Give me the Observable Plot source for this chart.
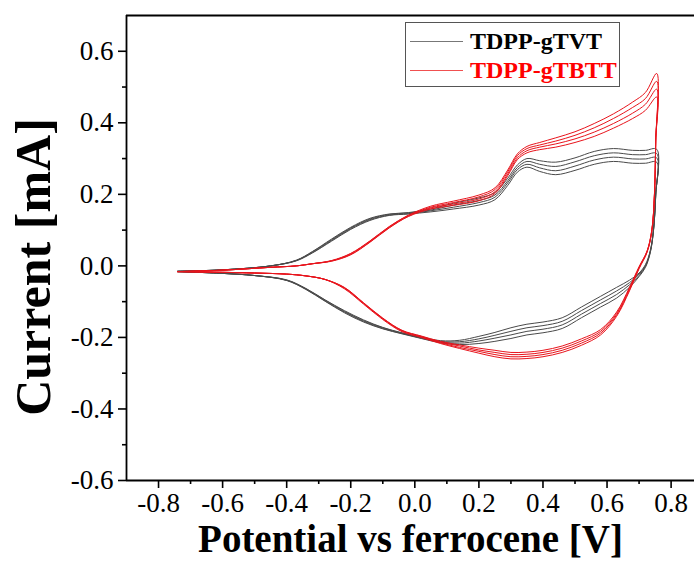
<!DOCTYPE html>
<html>
<head>
<meta charset="utf-8">
<script src="https://cdn.jsdelivr.net/npm/d3@7"></script>
<script src="https://cdn.jsdelivr.net/npm/@observablehq/plot@0.6"></script>
<style>
  html, body { margin: 0; padding: 0; background: #fff; }
  #chart { position: relative; width: 694px; height: 561px; overflow: hidden; }
  #chart svg text { font-family: "Liberation Serif", "Times New Roman", serif; }
  .legend {
    position: absolute; left: 405px; top: 22px; width: 213px; height: 63px;
    border: 1px solid #555; background: #fff;
    font-family: "Liberation Serif", "Times New Roman", serif; font-weight: bold; font-size: 24px;
  }
  .legend .row { position: absolute; left: 0; height: 28px; display: flex; align-items: center; }
  .legend .swatch { width: 53px; height: 0; margin-left: 4px; margin-right: 7px; }
</style>
</head>
<body>
<div id="chart"></div>
<script>
// Cyclic voltammograms, four consecutive cycles per polymer film.
// Potential (V vs Fc/Fc+) and current (mA).

const seriesNames = ["TDPP-gTVT", "TDPP-gTBTT"];
const seriesColors = ["#4a4a4a", "#e8141c"];

const xMajorTicks = [-0.8, -0.6, -0.4, -0.2, 0.0, 0.2, 0.4, 0.6, 0.8];
const xMinorTicks = [-0.7, -0.5, -0.3, -0.1, 0.1, 0.3, 0.5, 0.7];
const yMajorTicks = [-0.6, -0.4, -0.2, 0.0, 0.2, 0.4, 0.6];
const yMinorTicks = [-0.5, -0.3, -0.1, 0.1, 0.3, 0.5];

// anodic sweep potentials (shared by both films)
const scanForwardX = [-0.74, -0.6, -0.45, -0.37, -0.32, -0.26, -0.2, -0.14, -0.08, -0.02, 0.05, 0.12, 0.2, 0.25, 0.29, 0.32, 0.35, 0.39, 0.44, 0.5, 0.56, 0.62, 0.68, 0.72, 0.755];

// TDPP-gTVT, anodic sweep current per cycle
const tvtForward = [
  [-0.015, -0.011, 0.0, 0.016, 0.040, 0.075, 0.108, 0.133, 0.145, 0.149, 0.159, 0.175, 0.190, 0.205, 0.245, 0.282, 0.300, 0.294, 0.290, 0.302, 0.320, 0.328, 0.323, 0.323, 0.326],
  [-0.015, -0.011, 0.0, 0.015, 0.039, 0.073, 0.106, 0.131, 0.144, 0.148, 0.156, 0.170, 0.183, 0.198, 0.238, 0.275, 0.292, 0.284, 0.278, 0.291, 0.308, 0.316, 0.311, 0.311, 0.314],
  [-0.015, -0.011, 0.0, 0.015, 0.037, 0.071, 0.104, 0.129, 0.142, 0.146, 0.154, 0.164, 0.177, 0.192, 0.232, 0.269, 0.284, 0.274, 0.266, 0.279, 0.296, 0.304, 0.299, 0.299, 0.302],
  [-0.015, -0.011, 0.0, 0.014, 0.036, 0.069, 0.102, 0.127, 0.141, 0.145, 0.151, 0.159, 0.170, 0.185, 0.225, 0.262, 0.276, 0.264, 0.255, 0.267, 0.284, 0.292, 0.287, 0.287, 0.290]
];

// TDPP-gTVT, cathodic sweep
const tvtReverseX = [0.752, 0.745, 0.735, 0.72, 0.7, 0.67, 0.63, 0.58, 0.52, 0.46, 0.4, 0.35, 0.3, 0.25, 0.2, 0.14, 0.08, 0.02, -0.04, -0.1, -0.16, -0.22, -0.28, -0.34, -0.4, -0.5, -0.6, -0.74];
const tvtReverse = [
  [0.198, 0.098, 0.037, -0.004, -0.030, -0.060, -0.090, -0.115, -0.145, -0.175, -0.187, -0.193, -0.203, -0.211, -0.217, -0.220, -0.215, -0.203, -0.190, -0.176, -0.157, -0.131, -0.099, -0.066, -0.041, -0.027, -0.021, -0.016],
  [0.199, 0.099, 0.039, -0.001, -0.027, -0.053, -0.080, -0.105, -0.135, -0.165, -0.177, -0.183, -0.193, -0.202, -0.210, -0.216, -0.213, -0.202, -0.189, -0.175, -0.155, -0.129, -0.098, -0.065, -0.040, -0.027, -0.021, -0.016],
  [0.201, 0.101, 0.041, 0.001, -0.023, -0.047, -0.070, -0.095, -0.125, -0.155, -0.167, -0.173, -0.183, -0.194, -0.204, -0.212, -0.211, -0.200, -0.188, -0.173, -0.153, -0.127, -0.096, -0.064, -0.040, -0.027, -0.021, -0.016],
  [0.202, 0.102, 0.043, 0.004, -0.020, -0.040, -0.060, -0.085, -0.115, -0.145, -0.157, -0.163, -0.173, -0.186, -0.197, -0.208, -0.209, -0.199, -0.187, -0.172, -0.151, -0.125, -0.095, -0.063, -0.039, -0.027, -0.021, -0.016]
];

// TDPP-gTBTT, anodic sweep current per cycle
const tbttForward = [
  [-0.016, -0.012, -0.004, 0.0, 0.006, 0.015, 0.035, 0.070, 0.110, 0.142, 0.167, 0.181, 0.198, 0.218, 0.268, 0.313, 0.334, 0.345, 0.358, 0.375, 0.398, 0.425, 0.458, 0.485, 0.538],
  [-0.016, -0.012, -0.004, 0.0, 0.006, 0.014, 0.034, 0.069, 0.109, 0.141, 0.164, 0.177, 0.193, 0.213, 0.263, 0.308, 0.328, 0.338, 0.349, 0.365, 0.386, 0.412, 0.443, 0.468, 0.516],
  [-0.016, -0.012, -0.004, 0.0, 0.006, 0.014, 0.032, 0.067, 0.107, 0.139, 0.162, 0.173, 0.187, 0.207, 0.257, 0.302, 0.322, 0.332, 0.341, 0.355, 0.374, 0.398, 0.427, 0.452, 0.494],
  [-0.016, -0.012, -0.004, 0.0, 0.006, 0.013, 0.031, 0.066, 0.106, 0.138, 0.159, 0.169, 0.182, 0.202, 0.252, 0.297, 0.316, 0.325, 0.332, 0.345, 0.362, 0.385, 0.412, 0.435, 0.472]
];

// TDPP-gTBTT, cathodic sweep
const tbttReverseX = [0.752, 0.748, 0.74, 0.725, 0.7, 0.67, 0.63, 0.58, 0.52, 0.46, 0.4, 0.35, 0.3, 0.25, 0.2, 0.14, 0.08, 0.02, -0.04, -0.1, -0.16, -0.22, -0.28, -0.34, -0.4, -0.5, -0.6, -0.74];
const tbttReverse = [
  [0.348, 0.198, 0.098, 0.038, -0.008, -0.070, -0.141, -0.193, -0.222, -0.242, -0.254, -0.259, -0.260, -0.254, -0.244, -0.231, -0.217, -0.200, -0.184, -0.150, -0.107, -0.064, -0.038, -0.028, -0.023, -0.020, -0.018, -0.016],
  [0.349, 0.199, 0.099, 0.039, -0.006, -0.067, -0.137, -0.188, -0.216, -0.236, -0.248, -0.253, -0.254, -0.248, -0.239, -0.228, -0.215, -0.199, -0.182, -0.148, -0.105, -0.062, -0.038, -0.028, -0.023, -0.020, -0.018, -0.016],
  [0.351, 0.201, 0.101, 0.041, -0.004, -0.063, -0.133, -0.183, -0.210, -0.230, -0.242, -0.247, -0.248, -0.242, -0.235, -0.224, -0.213, -0.197, -0.181, -0.147, -0.104, -0.061, -0.038, -0.028, -0.023, -0.020, -0.018, -0.016],
  [0.352, 0.202, 0.102, 0.042, -0.002, -0.060, -0.129, -0.178, -0.204, -0.224, -0.236, -0.241, -0.242, -0.236, -0.230, -0.221, -0.211, -0.196, -0.180, -0.146, -0.103, -0.060, -0.038, -0.028, -0.023, -0.020, -0.018, -0.016]
];

// one closed loop per cycle: anodic sweep followed by cathodic sweep
function cycles(series, forward, reverseX, reverse) {
  const rows = [];
  forward.forEach((fy, c) => {
    scanForwardX.forEach((x, i) => rows.push({series, cycle: c + 1, x, y: fy[i]}));
    reverseX.forEach((x, i) => rows.push({series, cycle: c + 1, x, y: reverse[c][i]}));
  });
  return rows;
}

const tvtRows = cycles(seriesNames[0], tvtForward, tvtReverseX, tvtReverse);
const tbttRows = cycles(seriesNames[1], tbttForward, tbttReverseX, tbttReverse);

const fmt = d => d.toFixed(1);
const serif = "\"Liberation Serif\", \"Times New Roman\", serif";

const chart = Plot.plot({
  width: 694,
  height: 561,
  marginLeft: 126,
  marginRight: 0,
  marginTop: 15,
  marginBottom: 81,
  style: {fontFamily: serif, background: "#fff", color: "#000"},
  x: {domain: [-0.9, 0.873]},
  y: {domain: [-0.6, 0.7]},
  marks: [
    Plot.line(tvtRows, {x: "x", y: "y", z: "cycle", stroke: seriesColors[0], strokeWidth: 1, curve: "catmull-rom"}),
    Plot.line(tbttRows, {x: "x", y: "y", z: "cycle", stroke: seriesColors[1], strokeWidth: 1, curve: "catmull-rom"}),
    // major ticks with labels, minor ticks without
    Plot.axisX({ticks: xMajorTicks, tickSize: 8, tickPadding: 4, tickFormat: fmt, fontSize: 27, fontFamily: serif, strokeWidth: 1.6, label: null}),
    Plot.axisX({ticks: xMinorTicks, tickSize: 4, fill: "none", stroke: "#000", strokeWidth: 1.6, label: null}),
    Plot.axisY({ticks: yMajorTicks, tickSize: 8, tickPadding: 5, tickFormat: fmt, fontSize: 27, fontFamily: serif, strokeWidth: 1.6, label: null}),
    Plot.axisY({ticks: yMinorTicks, tickSize: 4, fill: "none", stroke: "#000", strokeWidth: 1.6, label: null}),
    Plot.ruleX([-0.9], {stroke: "#000", strokeWidth: 1.8}),
    Plot.ruleY([-0.6, 0.7], {stroke: "#000", strokeWidth: 1.8}),
    Plot.text(["Potential vs ferrocene [V]"], {frameAnchor: "bottom", dy: 71, fontSize: 39, fontWeight: "bold", fontFamily: serif, fill: "#000"}),
    Plot.text(["Current [mA]"], {frameAnchor: "left", textAnchor: "middle", rotate: -90, dx: -93, dy: 19, fontSize: 50, fontWeight: "bold", fontFamily: serif, fill: "#000"})
  ]
});

const holder = document.getElementById("chart");
holder.appendChild(chart);

// legend box in the upper part of the plot area
const legend = document.createElement("div");
legend.className = "legend";
seriesNames.forEach((name, i) => {
  const row = document.createElement("div");
  row.className = "row";
  row.style.top = (4 + i * 29) + "px";
  const sw = document.createElement("span");
  sw.className = "swatch";
  sw.style.borderTop = "1px solid " + (i === 0 ? "#777" : "#f05050");
  const label = document.createElement("span");
  label.textContent = name;
  label.style.color = i === 0 ? "#000" : "#f00";
  row.appendChild(sw);
  row.appendChild(label);
  legend.appendChild(row);
});
holder.appendChild(legend);
</script>
</body>
</html>
